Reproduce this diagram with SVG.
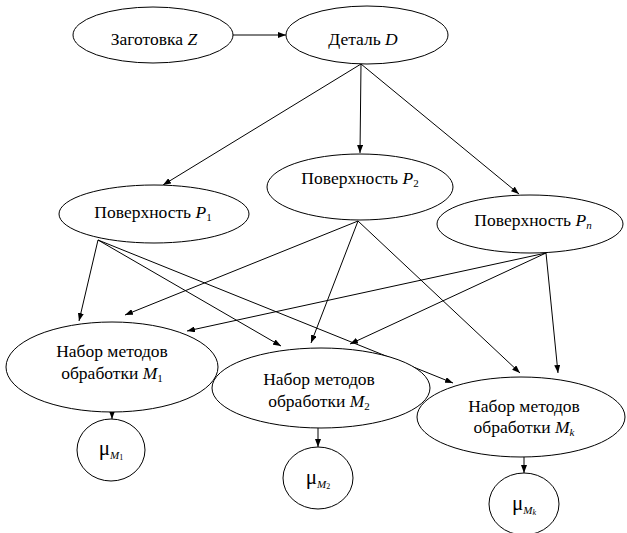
<svg xmlns="http://www.w3.org/2000/svg" width="627" height="533" viewBox="0 0 627 533">
<style>
.n{fill:#fff;stroke:#000;stroke-width:1}
.t{font-family:'Liberation Serif','Times New Roman',serif;font-size:17.5px;fill:#000;text-anchor:middle}
.i{font-style:italic}
.s{font-size:11px}
.mu{font-size:21px}
.c line{stroke:#000;stroke-width:1;marker-end:url(#a)}
</style>
<defs>
<marker id="a" markerWidth="8" markerHeight="6" refX="8" refY="3" orient="auto" markerUnits="userSpaceOnUse">
<path d="M0,0 L8,3 L0,6 Z" fill="#000"/>
</marker>
</defs>
<rect width="627" height="533" fill="#fff"/>
<g class="c" id="connectors">
<line x1="233" y1="35" x2="286" y2="35"/>
<line x1="361" y1="64" x2="163" y2="185"/>
<line x1="361" y1="64" x2="360" y2="153"/>
<line x1="361" y1="64" x2="519" y2="194"/>
<line x1="98" y1="240" x2="79" y2="321"/>
<line x1="98" y1="240" x2="281" y2="346"/>
<line x1="98" y1="240" x2="453" y2="383"/>
<line x1="358" y1="221" x2="125" y2="315"/>
<line x1="358" y1="221" x2="311" y2="343"/>
<line x1="358" y1="221" x2="520" y2="373"/>
<line x1="546" y1="253" x2="187" y2="331"/>
<line x1="546" y1="253" x2="350" y2="344"/>
<line x1="546" y1="253" x2="558" y2="373"/>
<line x1="112" y1="412" x2="112" y2="419"/>
<line x1="318" y1="428" x2="318" y2="447"/>
<line x1="524" y1="457" x2="524" y2="473"/>
</g>
<g id="Z"><ellipse class="n" cx="153" cy="35" rx="80" ry="28"/><text class="t" x="154" y="45">Заготовка <tspan class="i">Z</tspan></text></g>
<g id="D"><ellipse class="n" cx="367" cy="35" rx="81" ry="29"/><text class="t" x="363" y="45">Деталь <tspan class="i">D</tspan></text></g>
<g id="P1"><ellipse class="n" cx="154" cy="214" rx="95" ry="29"/><text class="t" x="153" y="218">Поверхность <tspan class="i">P</tspan><tspan class="s" dy="3">1</tspan></text></g>
<g id="P2"><ellipse class="n" cx="360" cy="187" rx="93" ry="33"/><text class="t" x="360" y="184">Поверхность <tspan class="i">P</tspan><tspan class="s" dy="3">2</tspan></text></g>
<g id="Pn"><ellipse class="n" cx="530" cy="224" rx="93" ry="29"/><text class="t" x="533" y="226">Поверхность <tspan class="i">P</tspan><tspan class="s i" dy="3">n</tspan></text></g>
<g id="M1"><ellipse class="n" cx="112" cy="367" rx="106" ry="45"/><text class="t" x="112" y="357">Набор методов</text><text class="t" x="112" y="379">обработки <tspan class="i">M</tspan><tspan class="s" dy="3">1</tspan></text></g>
<g id="M2"><ellipse class="n" cx="321" cy="388" rx="109" ry="40"/><text class="t" x="319" y="385">Набор методов</text><text class="t" x="319" y="407">обработки <tspan class="i">M</tspan><tspan class="s" dy="3">2</tspan></text></g>
<g id="Mk"><ellipse class="n" cx="521" cy="417" rx="104" ry="40"/><text class="t" x="524" y="412">Набор методов</text><text class="t" x="524" y="433">обработки <tspan class="i">M</tspan><tspan class="s i" dy="3">k</tspan></text></g>
<g id="muM1"><ellipse class="n" cx="111" cy="450" rx="34" ry="31"/><text class="t" x="111" y="455"><tspan class="mu">μ</tspan><tspan class="s i" dy="4">M</tspan><tspan font-size="8" dy="1">1</tspan></text></g>
<g id="muM2"><ellipse class="n" cx="318" cy="478" rx="35" ry="31"/><text class="t" x="318" y="484"><tspan class="mu">μ</tspan><tspan class="s i" dy="4">M</tspan><tspan font-size="8" dy="1">2</tspan></text></g>
<g id="muMk"><ellipse class="n" cx="524" cy="504" rx="35" ry="31"/><text class="t" x="524" y="510"><tspan class="mu">μ</tspan><tspan class="s i" dy="4">M</tspan><tspan font-size="8" class="i" dy="1">k</tspan></text></g>
</svg>
